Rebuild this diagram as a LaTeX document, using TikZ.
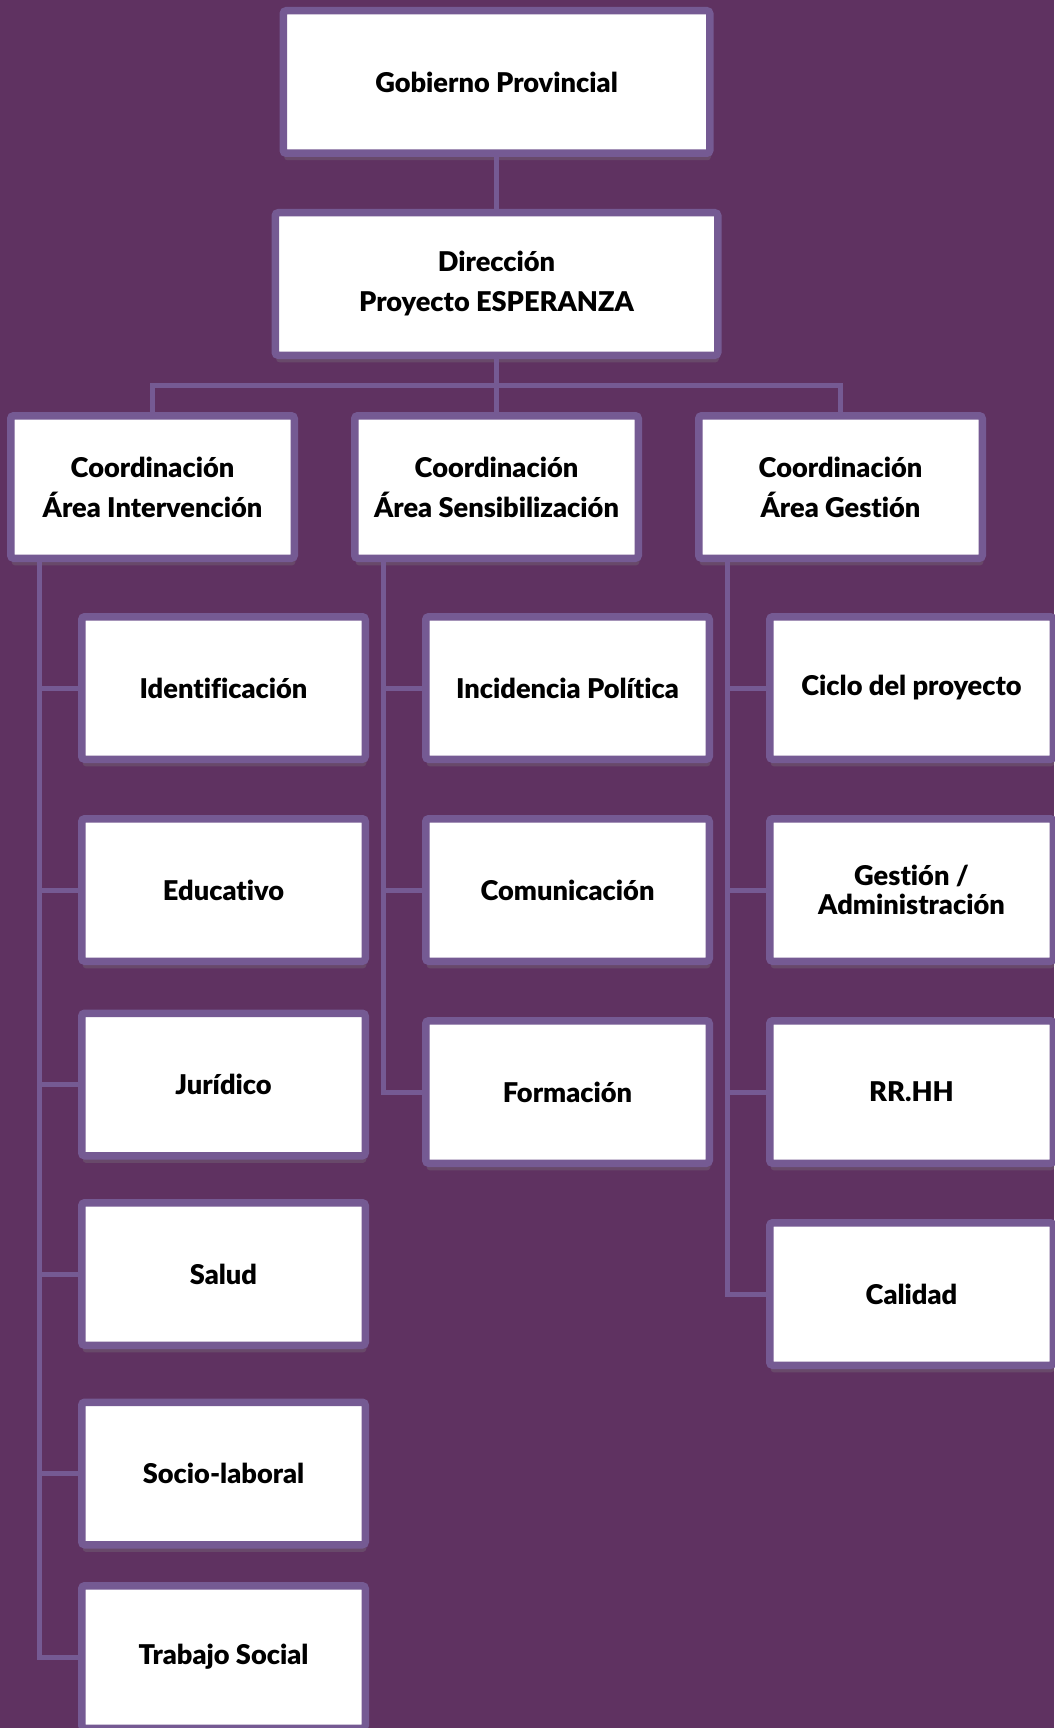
\documentclass[tikz,border=0pt]{standalone}
\usepackage{fontspec}
\setmainfont{Lato}[BoldFont={Lato Black}, Ligatures=NoCommon]
\usetikzlibrary{calc,positioning,shadows}
\definecolor{fondo}{RGB}{95,50,97}
\definecolor{marco}{RGB}{117,90,147}
\tikzset{
  caja/.style={draw=marco, line width=7.5pt, fill=white, rounded corners=3pt,
    inner sep=0pt, align=center, font=\bfseries\fontsize{27.2}{40}\selectfont,
    drop shadow={shadow xshift=1pt, shadow yshift=-7pt, opacity=0.3}},
  hijo/.style={caja, minimum width=283.5pt, minimum height=142.5pt},
  link/.style={draw=marco, line width=5pt},
}
\begin{document}
\begin{tikzpicture}[x=1pt,y=-1pt]
    \fill[fondo] (0,0) rectangle (1054,1728);
    \useasboundingbox (0,0) rectangle (1054,1728);
    % cabecera
    \node[caja, minimum width=426.5pt, minimum height=142.5pt] at (496.5,82) (gob) {Gobierno Provincial};
    \node[caja, minimum width=442.5pt, minimum height=142.5pt] at (496.5,284) (dir) {Dirección\\Proyecto ESPERANZA};
    % coordinaciones
    \node[hijo] at (152.5,487) (c1) {Coordinación\\Área Intervención};
    \node[hijo] at (496.5,487) (c2) {Coordinación\\Área Sensibilización};
    \node[hijo] at (840.5,487) (c3) {Coordinación\\Área Gestión};
    % area intervencion
    \node[hijo] at (223.5,688) (l1) {Identificación};
    \node[hijo] at (223.5,890) (l2) {Educativo};
    \node[hijo] at (223.5,1084.5) (l3) {Jurídico};
    \node[hijo] at (223.5,1274) (l4) {Salud};
    \node[hijo] at (223.5,1473.5) (l5) {Socio-laboral};
    \node[hijo] at (223.5,1657) (l6) {Trabajo Social};
    % area sensibilizacion
    \node[hijo] at (567.5,688) (m1) {Incidencia Política};
    \node[hijo] at (567.5,890) (m2) {Comunicación};
    \node[hijo] at (567.5,1092) (m3) {Formación};
    % area gestion
    \node[hijo] at (911.5,688) (r1) {Ciclo del proyecto};
    \node[hijo, font=\bfseries\fontsize{27.2}{29}\selectfont] at (911.5,890) (r2) {Gestión /\\Administración};
    \node[hijo] at (911.5,1092) (r3) {RR.HH};
    \node[hijo] at (911.5,1294) (r4) {Calidad};
%
    \coordinate (bus) at (496.5,385);
    \coordinate (a1) at ($(c1.south west)+(32.5,0)$);
    \coordinate (a2) at ($(c2.south west)+(32.5,0)$);
    \coordinate (a3) at ($(c3.south west)+(32.5,0)$);
    \draw[link] (gob) -- (dir);
    \draw[link] (dir) -- (c2);
    \draw[link] (c1) |- (bus) -| (c3);
    \draw[link] (a1) |- (l1) (a1) |- (l2) (a1) |- (l3) (a1) |- (l4) (a1) |- (l5) (a1) |- (l6);
    \draw[link] (a2) |- (m1) (a2) |- (m2) (a2) |- (m3);
    \draw[link] (a3) |- (r1) (a3) |- (r2) (a3) |- (r3) (a3) |- (r4);
\end{tikzpicture}
\end{document}
